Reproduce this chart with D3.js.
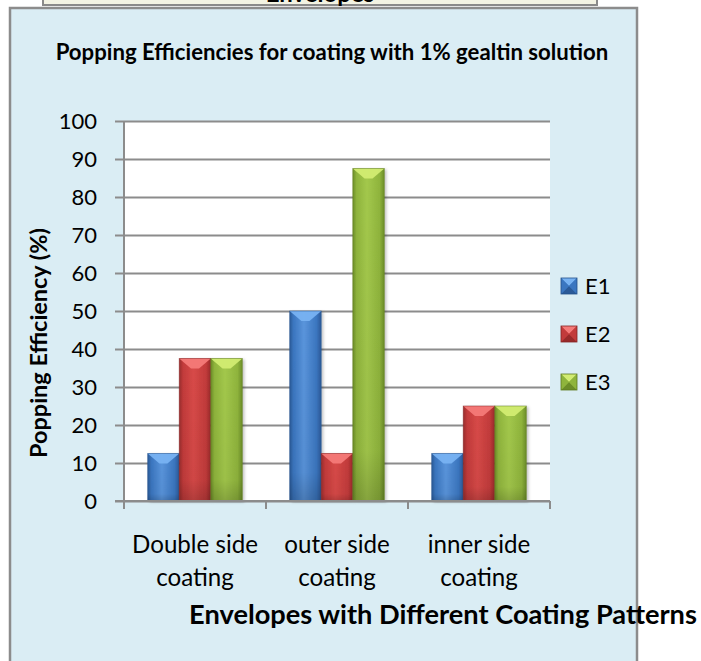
<!DOCTYPE html>
<html>
<head>
<meta charset="utf-8">
<script src="https://cdn.jsdelivr.net/npm/d3@7"></script>
<style>
  html, body { margin: 0; padding: 0; background: #ffffff; }
  svg { display: block; font-family: Lato, "Open Sans", sans-serif; }
</style>
</head>
<body>
<svg id="chart" width="701" height="661"></svg>
<script>
// Coating patterns along the x axis
const categories = ["Double side coating", "outer side coating", "inner side coating"];
const categoryLines = [["Double side", "coating"], ["outer side", "coating"], ["inner side", "coating"]];
// Envelope series
const seriesNames = ["E1", "E2", "E3"];
const valuesE1 = [12.5, 50, 12.5];
const valuesE2 = [37.5, 12.5, 25];
const valuesE3 = [37.5, 87.5, 25];
const yTicks = [0, 10, 20, 30, 40, 50, 60, 70, 80, 90, 100];

const seriesValues = [valuesE1, valuesE2, valuesE3];
const palette = {
  E1: { base: "#3b76c0", light: "#5a95dc", dark: "#2b5a98", top: "#78b2f2", edge: "#24508a" },
  E2: { base: "#c23b3b", light: "#d84a48", dark: "#982a2a", top: "#f47a78", edge: "#862424" },
  E3: { base: "#8fb43c", light: "#a3c84c", dark: "#6c8d28", top: "#d2ec72", edge: "#5d7a20" }
};

const svg = d3.select("#chart");
const defs = svg.append("defs");

// Horizontal shading for the bevelled bars
seriesNames.forEach(s => {
  const c = palette[s];
  const g = defs.append("linearGradient").attr("id", "grad-" + s)
    .attr("x1", "0").attr("x2", "1").attr("y1", "0").attr("y2", "0");
  g.append("stop").attr("offset", "0%").attr("stop-color", c.dark);
  g.append("stop").attr("offset", "12%").attr("stop-color", c.base);
  g.append("stop").attr("offset", "45%").attr("stop-color", c.light);
  g.append("stop").attr("offset", "85%").attr("stop-color", c.base);
  g.append("stop").attr("offset", "100%").attr("stop-color", c.dark);
  const v = defs.append("linearGradient").attr("id", "shade-" + s)
    .attr("x1", "0").attr("x2", "0").attr("y1", "0").attr("y2", "1");
  v.append("stop").attr("offset", "0%").attr("stop-color", "#000").attr("stop-opacity", 0);
  v.append("stop").attr("offset", "85%").attr("stop-color", "#000").attr("stop-opacity", 0.04);
  v.append("stop").attr("offset", "100%").attr("stop-color", "#000").attr("stop-opacity", 0.18);
});
const shadow = defs.append("filter").attr("id", "barShadow")
  .attr("x", "-20%").attr("y", "-5%").attr("width", "150%").attr("height", "115%");
shadow.append("feDropShadow").attr("dx", 2).attr("dy", 1).attr("stdDeviation", 1.5)
  .attr("flood-color", "#000").attr("flood-opacity", 0.25);

// Header box partly above the frame
svg.append("rect").attr("x", 43).attr("y", -20).attr("width", 554).attr("height", 25)
  .attr("fill", "#f3f3e3").attr("stroke", "#8a8a8a").attr("stroke-width", 2);
svg.append("text").attr("x", 320).attr("y", 2)
  .attr("text-anchor", "middle").attr("font-weight", "bold").attr("font-size", 24)
  .attr("fill", "#000").text("Envelopes");

// Chart frame
svg.append("rect").attr("x", 10).attr("y", 8).attr("width", 627).attr("height", 670)
  .attr("fill", "#daedf4").attr("stroke", "#8c8c8c").attr("stroke-width", 2.5);

// Fit a text element to a given width by adjusting its font size
function fitWidth(sel, width) {
  const node = sel.node();
  const fs = parseFloat(sel.attr("font-size"));
  const w = node.getComputedTextLength();
  if (w > 0) sel.attr("font-size", (fs * width / w).toFixed(2));
  return sel;
}

// Title
fitWidth(svg.append("text").attr("x", 332).attr("y", 60)
  .attr("text-anchor", "middle").attr("font-weight", "bold").attr("font-size", 18)
  .attr("fill", "#000").text("Popping Efficiencies for coating with 1% gealtin solution"), 553);

// Scales
const plot = { left: 124, right: 550, top: 121, bottom: 501 };
const x0 = d3.scaleBand().domain(categories).range([plot.left, plot.right]).padding(0);
const x1 = d3.scaleBand().domain(seriesNames).range([0, x0.bandwidth()])
  .paddingInner(0).paddingOuter(0.75);
const y = d3.scaleLinear().domain([0, 100]).range([plot.bottom, plot.top]);

// Plot background
svg.append("rect").attr("x", plot.left).attr("y", plot.top)
  .attr("width", plot.right - plot.left).attr("height", plot.bottom - plot.top)
  .attr("fill", "#ffffff");

// Gridlines and y-axis ticks
const yAxis = d3.axisLeft(y).tickValues(yTicks).tickSize(9).tickPadding(0).tickFormat(d3.format("d"));
const yg = svg.append("g").attr("transform", `translate(${plot.left},0)`).call(yAxis);
yg.select(".domain").remove();
yg.selectAll(".tick line").attr("stroke", "#8c8c8c").attr("stroke-width", 2)
  .attr("x1", plot.right - plot.left);
yg.selectAll(".tick text").attr("x", -27).attr("font-size", 22)
  .attr("font-family", "Lato, sans-serif").attr("fill", "#000");

// Bars
const groups = svg.append("g").selectAll("g").data(categories).join("g")
  .attr("transform", d => `translate(${x0(d)},0)`);

groups.each(function(cat, ci) {
  const g = d3.select(this);
  seriesNames.forEach((s, si) => {
    const v = seriesValues[si][ci];
    const bx = x1(s), bw = x1.bandwidth();
    const by = y(v), bh = y(0) - y(v);
    const c = palette[s];
    const bar = g.append("g");
    bar.append("rect").attr("x", bx).attr("y", by).attr("width", bw).attr("height", bh)
      .attr("fill", "url(#grad-" + s + ")").attr("filter", "url(#barShadow)");
    bar.append("rect").attr("x", bx).attr("y", by).attr("width", bw).attr("height", bh)
      .attr("fill", "url(#shade-" + s + ")");
    // Bevel on the top edge
    const bev = Math.min(10, bh / 2);
    bar.append("path")
      .attr("d", `M${bx},${by} L${bx + bw},${by} L${bx + bw / 2 + 4},${by + bev} L${bx + bw / 2 - 4},${by + bev} Z`)
      .attr("fill", c.top).attr("opacity", 0.95);
    bar.append("rect").attr("x", bx).attr("y", by).attr("width", bw).attr("height", bh)
      .attr("fill", "none").attr("stroke", c.edge).attr("stroke-width", 0.8).attr("stroke-opacity", 0.6);
  });
});

// Axis lines
svg.append("line").attr("x1", plot.left).attr("x2", plot.left)
  .attr("y1", plot.top).attr("y2", plot.bottom + 8)
  .attr("stroke", "#8c8c8c").attr("stroke-width", 2);
const xBoundaries = categories.map(c => x0(c)).concat([x0(categories[categories.length - 1]) + x0.bandwidth()]);
svg.append("line").attr("x1", plot.left - 9).attr("x2", plot.right)
  .attr("y1", plot.bottom).attr("y2", plot.bottom)
  .attr("stroke", "#8c8c8c").attr("stroke-width", 2);
svg.append("g").selectAll("line").data(xBoundaries).join("line")
  .attr("x1", d => d).attr("x2", d => d)
  .attr("y1", plot.bottom).attr("y2", plot.bottom + 8)
  .attr("stroke", "#8c8c8c").attr("stroke-width", 2);

// Category labels, sized so the first line spans its measured width
const catLabels = svg.append("g").selectAll("text").data(categories).join("text")
  .attr("x", d => x0(d) + x0.bandwidth() / 2)
  .attr("text-anchor", "middle").attr("font-size", 21).attr("fill", "#000");
catLabels.each(function(d, i) {
  const t = d3.select(this);
  categoryLines[i].forEach((line, li) => {
    t.append("tspan").attr("x", x0(d) + x0.bandwidth() / 2)
      .attr("y", 553 + li * 33).text(line);
  });
});
const firstLine = catLabels.filter((d, i) => i === 0).select("tspan").node();
const catSize = 21 * 126 / firstLine.getComputedTextLength();
catLabels.attr("font-size", catSize.toFixed(2));

// Axis titles
fitWidth(svg.append("text").attr("x", 443).attr("y", 624)
  .attr("text-anchor", "middle").attr("font-weight", "bold").attr("font-size", 22)
  .attr("fill", "#000").text("Envelopes with Different Coating Patterns"), 508);
fitWidth(svg.append("text")
  .attr("transform", "translate(47,343) rotate(-90)")
  .attr("text-anchor", "middle").attr("font-weight", "bold").attr("font-size", 20)
  .attr("fill", "#000").text("Popping Efficiency (%)"), 230);

// Legend
const legend = svg.append("g").selectAll("g").data(seriesNames).join("g")
  .attr("transform", (d, i) => `translate(561,${286 + i * 48})`);
legend.each(function(s) {
  const g = d3.select(this);
  const c = palette[s];
  const h = 8;
  g.append("rect").attr("x", 0).attr("y", -h).attr("width", 2 * h).attr("height", 2 * h).attr("fill", c.base);
  g.append("path").attr("d", `M0,${-h} L${2 * h},${-h} L${h},0 Z`).attr("fill", c.top);
  g.append("path").attr("d", `M0,${h} L${2 * h},${h} L${h},0 Z`).attr("fill", c.dark);
  g.append("path").attr("d", `M0,${-h} L0,${h} L${h},0 Z`).attr("fill", c.base);
  g.append("path").attr("d", `M${2 * h},${-h} L${2 * h},${h} L${h},0 Z`).attr("fill", c.base);
  g.append("rect").attr("x", 0).attr("y", -h).attr("width", 2 * h).attr("height", 2 * h)
    .attr("fill", "none").attr("stroke", c.edge).attr("stroke-width", 0.8);
  g.append("text").attr("x", 24).attr("y", 0).attr("dy", "0.36em")
    .attr("font-size", 22).attr("fill", "#000").text(s);
});
</script>
</body>
</html>
